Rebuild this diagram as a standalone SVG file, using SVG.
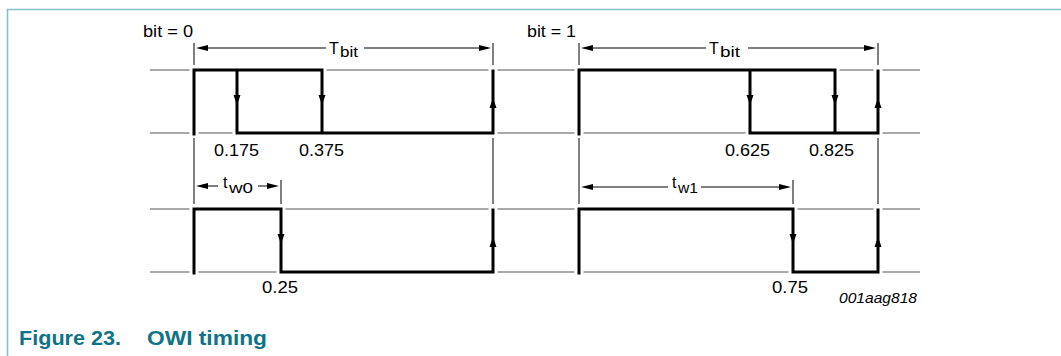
<svg xmlns="http://www.w3.org/2000/svg" xmlns:xlink="http://www.w3.org/1999/xlink" width="1061" height="356" viewBox="0 0 1061 356">
<style>
.frame{fill:none;stroke:#8abfca;stroke-width:1.6}
.grey{stroke:#8c8c8c;stroke-width:1.5;fill:none}
.guide{stroke:#000;stroke-width:1;fill:none}
.halo{stroke:#fff;stroke-width:9;fill:none}
.wave{stroke:#000;stroke-width:3;fill:none;stroke-linejoin:miter;stroke-linecap:square}
.dim{stroke:#000;stroke-width:1;fill:none}
.lbl{font-family:"Liberation Sans",Arial,sans-serif;font-size:16px;fill:#000}
.sub{font-family:"Liberation Sans",Arial,sans-serif;font-size:15px;fill:#000}
.id{font-family:"Liberation Sans",Arial,sans-serif;font-size:15px;font-style:italic;fill:#000}
.cap{font-family:"Liberation Sans",Arial,sans-serif;font-size:20px;font-weight:bold;fill:#0f7387}
</style>
<defs>
<polygon id="ad" points="-3.5,-5 3.5,-5 0,5" fill="#000"/>
<polygon id="au" points="-3.5,5 3.5,5 0,-5" fill="#000"/>
<polygon id="al" points="0,0 12,-3 12,3" fill="#000"/>
<polygon id="ar" points="0,0 -12,-3 -12,3" fill="#000"/>
</defs>

<path class="frame" d="M7.5,356 V9.5 H1061"/>

<g id="baselines">
<line class="grey" x1="150" y1="70" x2="920" y2="70"/>
<line class="grey" x1="150" y1="133" x2="920" y2="133"/>
<line class="grey" x1="150" y1="209" x2="920" y2="209"/>
<line class="grey" x1="150" y1="272" x2="920" y2="272"/>
</g>

<g id="guides">
<line class="guide" x1="194" y1="43" x2="194" y2="205"/>
<line class="guide" x1="493" y1="43" x2="493" y2="205"/>
<line class="guide" x1="579" y1="43" x2="579" y2="205"/>
<line class="guide" x1="878" y1="43" x2="878" y2="205"/>
<line class="guide" x1="281" y1="180" x2="281" y2="205"/>
<line class="guide" x1="793" y1="180" x2="793" y2="205"/>
</g>

<g id="halos">
<path class="halo" d="M194,65 V138 M237,65 V138 M322,65 V138 M493,65 V138 M579,65 V138 M750,65 V138 M835,65 V138 M878,65 V138"/>
<path class="halo" d="M194,204 V277 M281,204 V277 M493,204 V277 M579,204 V277 M793,204 V277 M878,204 V277"/>
</g>

<g id="wave-bit0-top">
<path class="wave" d="M194,134 V70 H322 V133 M237,70 V133 H493 V71"/>
<use xlink:href="#ad" x="237" y="100"/>
<use xlink:href="#ad" x="322" y="100"/>
<use xlink:href="#au" x="493" y="103"/>
</g>
<g id="wave-bit1-top">
<path class="wave" d="M579,134 V70 H835 V133 M750,70 V133 H878 V71"/>
<use xlink:href="#ad" x="750" y="100"/>
<use xlink:href="#ad" x="835" y="100"/>
<use xlink:href="#au" x="878" y="103"/>
</g>
<g id="wave-bit0-bottom">
<path class="wave" d="M194,273 V209 H281 V272 H493 V210"/>
<use xlink:href="#ad" x="281" y="239"/>
<use xlink:href="#au" x="493" y="242"/>
</g>
<g id="wave-bit1-bottom">
<path class="wave" d="M579,273 V209 H793 V272 H878 V210"/>
<use xlink:href="#ad" x="793" y="239"/>
<use xlink:href="#au" x="878" y="242"/>
</g>

<g id="connectors">
<line class="dim" x1="200" y1="48" x2="326" y2="48"/>
<line class="dim" x1="364" y1="48" x2="488" y2="48"/>
<use xlink:href="#al" x="196" y="48"/>
<use xlink:href="#ar" x="491" y="48"/>
<line class="dim" x1="585" y1="48" x2="706" y2="48"/>
<line class="dim" x1="748" y1="48" x2="872" y2="48"/>
<use xlink:href="#al" x="581" y="48"/>
<use xlink:href="#ar" x="876" y="48"/>
<line class="dim" x1="200" y1="186" x2="218" y2="186"/>
<line class="dim" x1="258" y1="186" x2="275" y2="186"/>
<use xlink:href="#al" x="196" y="186"/>
<use xlink:href="#ar" x="279" y="186"/>
<line class="dim" x1="585" y1="187" x2="668" y2="187"/>
<line class="dim" x1="701" y1="187" x2="787" y2="187"/>
<use xlink:href="#al" x="581" y="187"/>
<use xlink:href="#ar" x="791" y="187"/>
</g>

<g id="labels">
<text class="lbl" x="143" y="37" textLength="50" lengthAdjust="spacingAndGlyphs">bit = 0</text>
<text class="lbl" x="527" y="37" textLength="49" lengthAdjust="spacingAndGlyphs">bit = 1</text>
<text class="lbl" x="329" y="54">T<tspan class="sub" x="340" y="57" textLength="18" lengthAdjust="spacingAndGlyphs">bit</tspan></text>
<text class="lbl" x="709" y="54">T<tspan class="sub" x="720" y="57" textLength="20" lengthAdjust="spacingAndGlyphs">bit</tspan></text>
<text class="lbl" x="223" y="188">t<tspan class="sub" x="229" y="193" textLength="24" lengthAdjust="spacingAndGlyphs">w0</tspan></text>
<text class="lbl" x="672" y="188">t<tspan class="sub" x="678" y="193" textLength="20" lengthAdjust="spacingAndGlyphs">w1</tspan></text>
<text class="lbl" x="214" y="156" textLength="45" lengthAdjust="spacingAndGlyphs">0.175</text>
<text class="lbl" x="299" y="156" textLength="45" lengthAdjust="spacingAndGlyphs">0.375</text>
<text class="lbl" x="725" y="156" textLength="45" lengthAdjust="spacingAndGlyphs">0.625</text>
<text class="lbl" x="809" y="156" textLength="45" lengthAdjust="spacingAndGlyphs">0.825</text>
<text class="lbl" x="262" y="293" textLength="36" lengthAdjust="spacingAndGlyphs">0.25</text>
<text class="lbl" x="772" y="293" textLength="36" lengthAdjust="spacingAndGlyphs">0.75</text>
<text class="id" x="839" y="303" textLength="78" lengthAdjust="spacingAndGlyphs">001aag818</text>
</g>

<g id="caption">
<text class="cap" x="19" y="345" textLength="102" lengthAdjust="spacingAndGlyphs">Figure 23.</text>
<text class="cap" x="147" y="345" textLength="120" lengthAdjust="spacingAndGlyphs">OWI timing</text>
</g>
</svg>
